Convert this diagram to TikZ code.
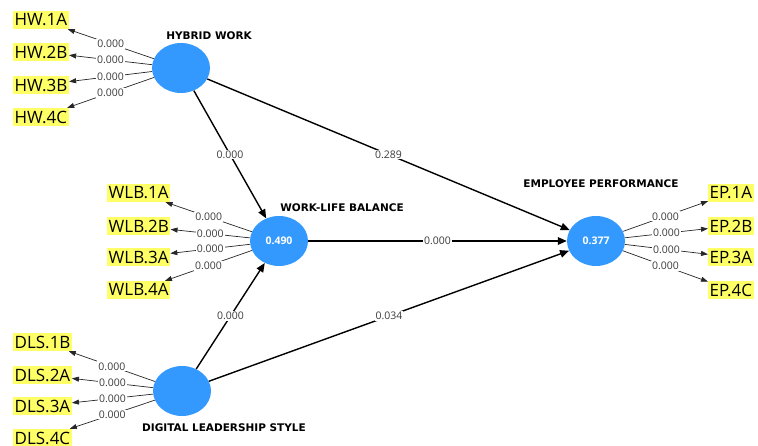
\documentclass[tikz,border=0pt]{standalone}
\usepackage{fontspec}
\setmainfont{Open Sans}
\newfontfamily\headfont{DejaVu Sans}
\usetikzlibrary{shapes.geometric,arrows.meta}
\definecolor{latent}{RGB}{51,153,255}
\definecolor{indbox}{RGB}{255,255,102}
\definecolor{wgt}{RGB}{60,60,60}
\begin{document}
\begin{tikzpicture}[x=1pt,y=-1pt,
  latentnode/.style={ellipse,fill=latent,minimum width=58pt,minimum height=50pt,
    inner sep=0pt,text=white,font=\fontsize{10.5}{12}\selectfont\bfseries},
  indicator/.style={fill=indbox,anchor=west,inner xsep=1.5pt,inner ysep=0pt,
    minimum height=18pt,font=\fontsize{17}{18}\selectfont},
  title/.style={font=\headfont\fontsize{10.5}{12}\selectfont\bfseries},
  structpath/.style={line width=1.4pt,-{Triangle[length=9pt,width=7.5pt]}},
  loading/.style={line width=0.7pt,draw=black!85,-{Triangle[length=7pt,width=5pt]}},
  weight/.style={fill=white,inner sep=1pt,text=wgt,font=\fontsize{10.5}{12}\selectfont}
]
\useasboundingbox (0,0) rectangle (758,446);

% constructs
\node[latentnode] (hw)  at (181,68)  {};
\node[latentnode] (wlb) at (279,241) {0.490};
\node[latentnode] (dls) at (182,391) {};
\node[latentnode] (ep)  at (596,241) {0.377};

% construct titles
\node[title] (thw)  at (209,36)  {HYBRID WORK};
\node[title] (twlb) at (342,208) {WORK-LIFE BALANCE};
\node[title] (tep)  at (601,184) {EMPLOYEE PERFORMANCE};
\node[title] (tdls) at (224,428) {DIGITAL LEADERSHIP STYLE};

% indicators
\node[indicator] (hw1) at (13,20)  {HW.1A};
\node[indicator] (hw2) at (13,52)  {HW.2B};
\node[indicator] (hw3) at (13,85)  {HW.3B};
\node[indicator] (hw4) at (13,117) {HW.4C};

\node[indicator] (wlb1) at (107,193) {WLB.1A};
\node[indicator] (wlb2) at (107,226) {WLB.2B};
\node[indicator] (wlb3) at (107,257) {WLB.3A};
\node[indicator] (wlb4) at (107,290) {WLB.4A};

\node[indicator] (dls1) at (13,342) {DLS.1B};
\node[indicator] (dls2) at (13,375) {DLS.2A};
\node[indicator] (dls3) at (13,406) {DLS.3A};
\node[indicator] (dls4) at (13,438) {DLS.4C};

\node[indicator] (ep1) at (708,193) {EP.1A};
\node[indicator] (ep2) at (708,226) {EP.2B};
\node[indicator] (ep3) at (708,257) {EP.3A};
\node[indicator] (ep4) at (708,290) {EP.4C};

% outer loadings
\foreach \c/\i in {hw/hw1,hw/hw2,hw/hw3,hw/hw4,
                   wlb/wlb1,wlb/wlb2,wlb/wlb3,wlb/wlb4,
                   dls/dls1,dls/dls2,dls/dls3,dls/dls4,
                   ep/ep1,ep/ep2,ep/ep3,ep/ep4}
  \draw[loading] (\c) -- node[weight] {0.000} (\i);

% structural paths
\draw[structpath] (hw)  -- node[weight] {0.000} (wlb);
\draw[structpath] (hw)  -- node[weight] {0.289} (ep);
\draw[structpath] (wlb) -- node[weight] {0.000} (ep);
\draw[structpath] (dls) -- node[weight] {0.000} (wlb);
\draw[structpath] (dls) -- node[weight] {0.034} (ep);
\end{tikzpicture}
\end{document}
